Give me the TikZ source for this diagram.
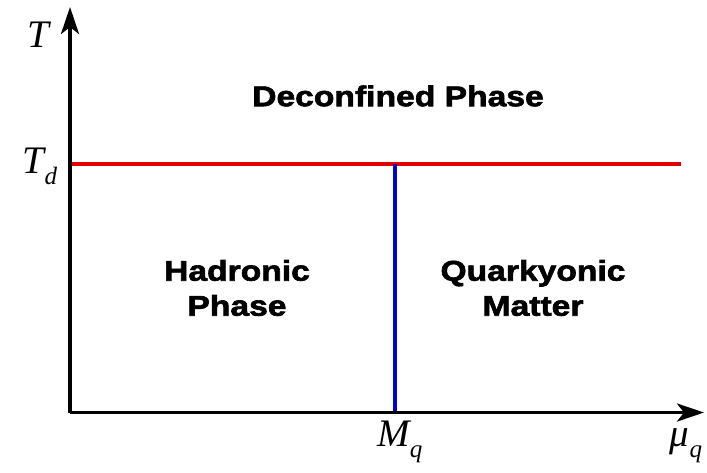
\documentclass[tikz,border=0pt]{standalone}
\usepackage{fontspec}
\setmainfont{Liberation Sans}
\newfontfamily\labfont[FakeStretch=1.18,FakeBold=2.2]{Liberation Sans Bold}
\newfontfamily\serifit{Liberation Serif Italic}
\usetikzlibrary{arrows.meta}
\newcommand{\subsc}[1]{\raisebox{-0.28em}{\fontsize{25}{28}\selectfont #1}}
\begin{document}
\begin{tikzpicture}[x=1pt,y=-1pt,
  axis/.style={line width=3.8pt,black,-{Stealth[length=27pt,width=18pt,inset=7pt]}},
  phaseline/.style={line width=3.6pt},
  region/.style={font=\labfont\fontsize{28.5}{35}\selectfont,align=center,inner sep=0pt},
  mathlab/.style={font=\serifit\fontsize{39}{42}\selectfont,inner sep=0pt}]
\useasboundingbox (0,0) rectangle (707,472);
\coordinate (O) at (70,412.5);
\coordinate (Ytop) at (70,7);
\coordinate (Xend) at (704,412.5);
\coordinate (Rl) at (70,164);
\coordinate (Rr) at (681,164);
\coordinate (Bt) at (395,164);
\coordinate (Bb) at (395,412);
\draw[phaseline,red!90!black] (Rl) -- (Rr);
\draw[phaseline,blue!85!black] (Bt) -- (Bb);
\draw[axis] (O) -- (Ytop);
\draw[axis] (O) -- (Xend);
\node[mathlab] (T) at (38,35) {T};
\node[mathlab] (Td) at (40,166) {T\subsc{d}};
\node[mathlab] (Mq) at (400,442) {M\subsc{q}};
\node[mathlab] (muq) at (686,446) {μ\subsc{q}};
\node[region] (dec) at (398,96) {Deconfined Phase};
\node[region] (had) at (237,288) {Hadronic\\Phase};
\node[region] (qua) at (533,288) {Quarkyonic\\Matter};
\end{tikzpicture}
\end{document}
